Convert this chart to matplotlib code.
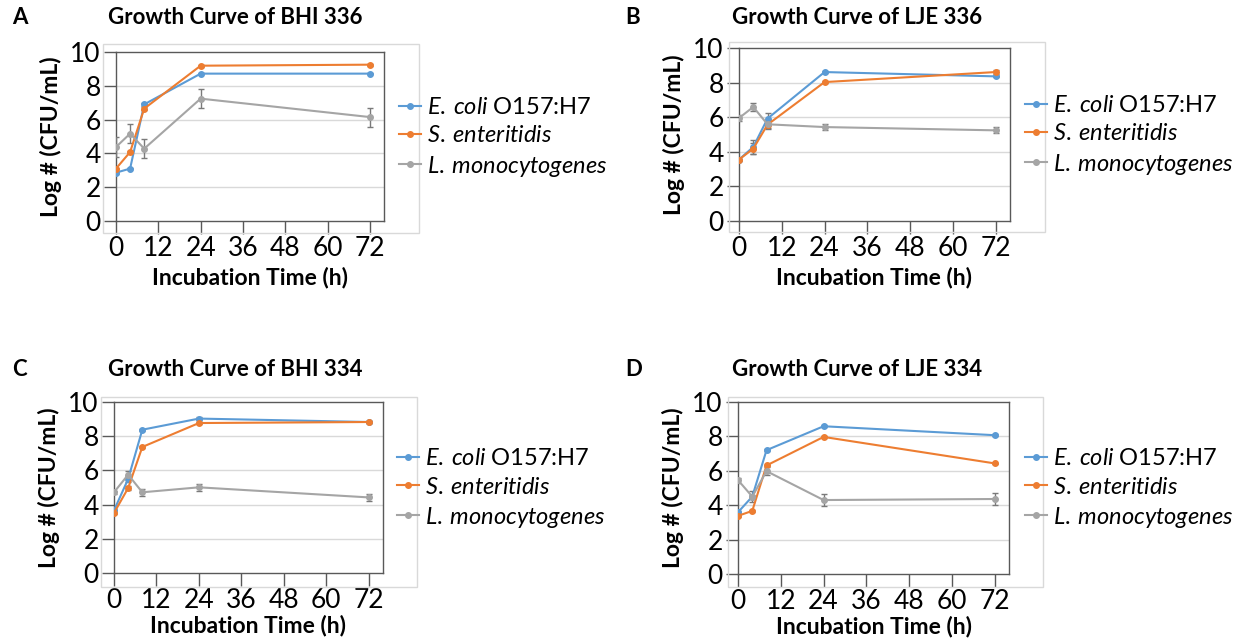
import matplotlib
matplotlib.use("Agg")
import matplotlib.pyplot as plt
from matplotlib import patches
from matplotlib.lines import Line2D

plt.rcParams["font.family"] = ["Lato", "DejaVu Sans"]
plt.rcParams["mathtext.fontset"] = "custom"
plt.rcParams["mathtext.rm"] = "Lato"
plt.rcParams["mathtext.it"] = "Lato:italic"

hours = [0, 4, 8, 24, 72]
series_labels = [r"$\it{E.\:coli}$ O157:H7", r"$\it{S.\:enteritidis}$", r"$\it{L.\:monocytogenes}$"]
colors = ["#5B9BD5", "#ED7D31", "#A5A5A5"]

titles = ["Growth Curve of BHI 336", "Growth Curve of LJE 336",
          "Growth Curve of BHI 334", "Growth Curve of LJE 334"]
panel_letters = ["A", "B", "C", "D"]

# log CFU/mL
ecoli_A = [2.86, 3.10, 6.90, 8.72, 8.72]
sent_A = [3.10, 4.08, 6.65, 9.19, 9.25]
lmono_A = [4.38, 5.17, 4.28, 7.24, 6.15]
ecoli_A_err = [0.05, 0.05, 0.08, 0.05, 0.05]
sent_A_err = [0.05, 0.05, 0.08, 0.05, 0.05]
lmono_A_err = [0.60, 0.55, 0.55, 0.56, 0.56]

ecoli_B = [3.55, 4.28, 5.92, 8.61, 8.36]
sent_B = [3.55, 4.18, 5.57, 8.03, 8.61]
lmono_B = [5.95, 6.59, 5.59, 5.43, 5.24]
ecoli_B_err = [0.05, 0.40, 0.30, 0.05, 0.05]
sent_B_err = [0.05, 0.30, 0.20, 0.05, 0.10]
lmono_B_err = [0.15, 0.22, 0.25, 0.15, 0.18]

ecoli_C = [3.66, 5.50, 8.38, 9.03, 8.83]
sent_C = [3.51, 4.97, 7.37, 8.77, 8.83]
lmono_C = [4.72, 5.75, 4.72, 5.01, 4.42]
ecoli_C_err = [0.05, 0.20, 0.05, 0.08, 0.05]
sent_C_err = [0.05, 0.10, 0.05, 0.05, 0.05]
lmono_C_err = [0.10, 0.20, 0.20, 0.20, 0.20]

ecoli_D = [3.59, 4.50, 7.20, 8.59, 8.07]
sent_D = [3.38, 3.67, 6.31, 7.97, 6.43]
lmono_D = [5.46, 4.50, 5.98, 4.30, 4.36]
ecoli_D_err = [0.05, 0.10, 0.05, 0.05, 0.05]
sent_D_err = [0.05, 0.05, 0.05, 0.05, 0.05]
lmono_D_err = [0.15, 0.30, 0.25, 0.35, 0.35]

panel_data = [
    ([ecoli_A, sent_A, lmono_A], [ecoli_A_err, sent_A_err, lmono_A_err]),
    ([ecoli_B, sent_B, lmono_B], [ecoli_B_err, sent_B_err, lmono_B_err]),
    ([ecoli_C, sent_C, lmono_C], [ecoli_C_err, sent_C_err, lmono_C_err]),
    ([ecoli_D, sent_D, lmono_D], [ecoli_D_err, sent_D_err, lmono_D_err]),
]

W, H = 1239, 640
fig = plt.figure(figsize=(W / 100, H / 100), dpi=100)

# pixel layout: plot box (l, r, t, b), chart frame (l, r, t, b), legend anchor, title centre, letter x
plot_boxes = [(116, 384, 52, 221), (739, 1010, 48, 221), (114, 383, 402, 573), (738, 1009, 402, 574)]
frames = [(103, 419, 44, 233), (729, 1045, 42, 232), (101, 417, 397, 587), (728, 1043, 397, 587)]
legend_pos = [(399, 138), (1025, 136), (397, 489), (1025, 489)]
title_pos = [(235, 17), (857, 17), (235, 370), (857, 370)]
letter_x = [12, 625, 12, 625]
xlabel_pads = [4, 4, 1, 1]

axis_grey = "#595959"

# legend keys without the error bar glyphs
handles = [Line2D([], [], color=c, lw=1.5, marker="o", ms=4) for c in colors]

for i in range(4):
    l, r, t, b = plot_boxes[i]
    ax = fig.add_axes([l / W, 1 - b / H, (r - l) / W, (b - t) / H])
    values, errors = panel_data[i]
    for vals, errs, color in zip(values, errors, colors):
        ax.errorbar(hours, vals, yerr=errs, color=color, ecolor="#7a7a7a", elinewidth=1,
                    capsize=2, capthick=1, lw=1.5, marker="o", ms=4, zorder=3)
    ax.set_xlim(0, 76)
    ax.set_ylim(0, 10)
    ax.set_xticks(range(0, 73, 12))
    ax.set_yticks(range(0, 11, 2))
    for y in range(2, 10, 2):
        ax.axhline(y, color="#D9D9D9", lw=1, zorder=1)
    for side in ["left", "bottom", "top", "right"]:
        ax.spines[side].set_color(axis_grey)
        ax.spines[side].set_linewidth(1)
    ax.tick_params(direction="out", length=9, width=1, color=axis_grey, labelsize=19, pad=2)
    ax.set_xlabel("Incubation Time (h)", fontsize=16.5, fontweight="bold", labelpad=xlabel_pads[i])
    ax.set_ylabel("Log # (CFU/mL)", fontsize=16.5, fontweight="bold", labelpad=6)

    fl, fr, ft, fb = frames[i]
    fig.add_artist(patches.Rectangle((fl / W, 1 - fb / H), (fr - fl) / W, (fb - ft) / H,
                                     transform=fig.transFigure, fill=False,
                                     edgecolor="#D9D9D9", lw=1))

    lx, ly = legend_pos[i]
    fig.legend(handles, series_labels, loc="center left",
               bbox_to_anchor=(lx / W, 1 - ly / H), frameon=False, fontsize=17,
               handlelength=0.95, handletextpad=0.25, borderpad=0, borderaxespad=0,
               labelspacing=0.3)

    tx, ty = title_pos[i]
    fig.text(tx / W, 1 - ty / H, titles[i], ha="center", va="center", fontsize=16, fontweight="bold")
    fig.text(letter_x[i] / W, 1 - ty / H, panel_letters[i], ha="left", va="center", fontsize=16, fontweight="bold")

fig.savefig("out.png", dpi=100)
